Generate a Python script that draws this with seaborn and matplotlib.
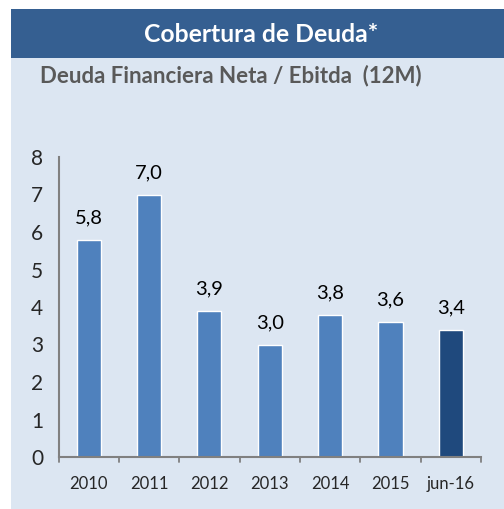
import matplotlib
matplotlib.use("Agg")
import matplotlib.pyplot as plt
import seaborn as sns
import pandas as pd
from matplotlib.patches import Rectangle

categories = ["2010", "2011", "2012", "2013", "2014", "2015", "jun-16"]
values = [5.8, 7.0, 3.9, 3.0, 3.8, 3.6, 3.4]
value_labels = ["5,8", "7,0", "3,9", "3,0", "3,8", "3,6", "3,4"]
yticks = [0, 1, 2, 3, 4, 5, 6, 7, 8]
title = "Cobertura de Deuda*"
subtitle = "Deuda Financiera Neta / Ebitda  (12M)"

sns.set_style("white")
plt.rcParams["font.family"] = ["Lato", "DejaVu Sans"]

W, H = 504, 509
fig = plt.figure(figsize=(W / 100, H / 100), dpi=100)
fig.patch.set_facecolor("white")

# background panels
fig.add_artist(Rectangle((11 / W, 0), 1 - 11 / W, 1 - 58 / H, transform=fig.transFigure,
                         facecolor="#dce6f2", edgecolor="none", zorder=0))
fig.add_artist(Rectangle((11 / W, 1 - 58 / H), 1 - 11 / W, 49 / H, transform=fig.transFigure,
                         facecolor="#355f91", edgecolor="none", zorder=0))
fig.text(261 / W, 1 - 35 / H, title, color="white", fontsize=17.8, fontweight="bold",
         ha="center", va="center")
fig.text(40 / W, 1 - 76 / H, subtitle, color="#595959", fontsize=16, fontweight="bold",
         ha="left", va="center")

ax = fig.add_axes([58.5 / W, 1 - 457 / H, (481 - 58.5) / W, 300 / H])
ax.set_facecolor("none")

df = pd.DataFrame({"cat": categories, "val": values})
colors = ["#4f81bd"] * 6 + ["#1f497d"]
sns.barplot(data=df, x="cat", y="val", hue="cat", palette=colors, legend=False,
            width=0.4, ax=ax, saturation=1)

ax.set_ylim(0, 8)
ax.set_xlim(-0.5, len(categories) - 0.5)
ax.set_yticks(yticks)
ax.set_yticklabels([str(t) for t in yticks], fontsize=15)
ax.set_xlabel("")
ax.set_ylabel("")
ax.tick_params(axis="x", labelsize=12, length=0, pad=14)
ax.tick_params(axis="y", length=5, width=1.3, color="#808080", direction="out", pad=6)

for s in ["top", "right"]:
    ax.spines[s].set_visible(False)
for s in ["left", "bottom"]:
    ax.spines[s].set_color("#808080")
    ax.spines[s].set_linewidth(1.5)

# category boundary tick marks on x axis
for b in range(len(categories) + 1):
    ax.plot([b - 0.5, b - 0.5], [0, -0.13], color="#808080", lw=1.3, clip_on=False)

for i, (v, lab) in enumerate(zip(values, value_labels)):
    ax.text(i, v + 0.35, lab, ha="center", va="bottom", fontsize=14.5, color="#000000")

fig.savefig("out.png", dpi=100)
